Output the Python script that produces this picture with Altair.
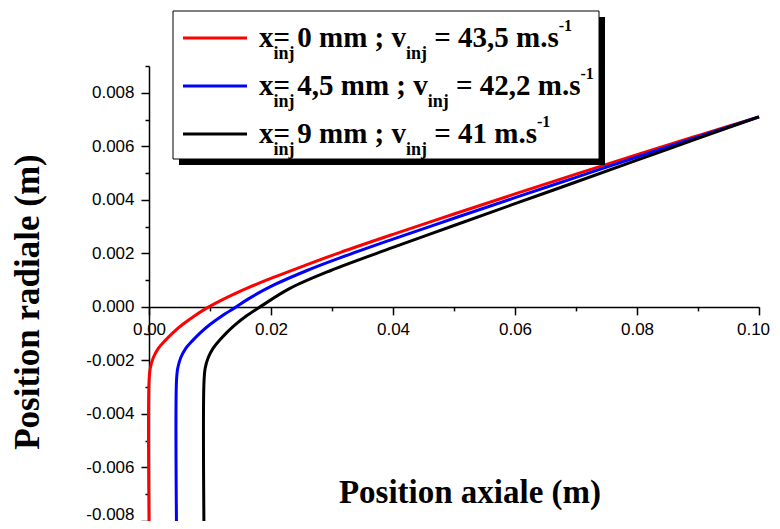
import altair as alt
import pandas as pd

# ---------------- data ----------------
series_names = ["x_inj = 0 mm", "x_inj = 4,5 mm", "x_inj = 9 mm"]
series_colors = ["#ff0000", "#0000ff", "#000000"]

red_x = [0.0, 0.0, 0.0002, 0.0007, 0.0015, 0.0026, 0.0039, 0.0055, 0.0075, 0.0098,
         0.0149, 0.0204, 0.0258, 0.0313, 0.04, 0.05, 0.06, 0.07, 0.08, 0.09, 0.1]
red_y = [-0.008, -0.0028, -0.0023, -0.0019, -0.00156, -0.00127, -0.00097, -0.00066, -0.00033, 0.0,
         0.00058, 0.0011, 0.00157, 0.00203, 0.00271, 0.00347, 0.00422, 0.00496, 0.00569, 0.0064, 0.0071]

blue_x = [0.0045, 0.0045, 0.0047, 0.0052, 0.006, 0.0071, 0.0084, 0.01, 0.012, 0.0143,
          0.0163, 0.0204, 0.0258, 0.0313, 0.04, 0.05, 0.06, 0.07, 0.08, 0.09, 0.1]
blue_y = [-0.008, -0.0028, -0.0023, -0.0019, -0.00156, -0.00127, -0.00097, -0.00066, -0.00033, 0.0,
          0.0003, 0.00081, 0.00135, 0.00183, 0.00253, 0.00331, 0.00408, 0.00484, 0.0056, 0.00635, 0.0071]

black_x = [0.009, 0.009, 0.0092, 0.0097, 0.0105, 0.0116, 0.0127, 0.0141, 0.016, 0.0182,
           0.0231, 0.0297, 0.04, 0.05, 0.06, 0.07, 0.08, 0.09, 0.1]
black_y = [-0.008, -0.0029, -0.0023, -0.0019, -0.00155, -0.00124, -0.00097, -0.00067, -0.00033, 0.0,
           0.00069, 0.00135, 0.00222, 0.00304, 0.003855, 0.004665, 0.00548, 0.0063, 0.0071]

x_tick_values = [round(0.01 * i, 2) for i in range(11)]
y_tick_values = [round(-0.008 + 0.001 * i, 3) for i in range(18)]

x_title = "Position axiale (m)"
y_title = "Position radiale (m)"

legend_x_parts = ["= 0 mm ; v", "= 4,5 mm ; v", "= 9 mm ; v"]
legend_v_parts = ["= 43,5 m.s", "= 42,2 m.s", "= 41 m.s"]
legend_sub = "inj"
legend_sup = "-1"

# ---------------- layout ----------------
W, H = 610, 455
PAD_L, PAD_T = 141, 58
X_DOMAIN = [0.0, 0.1]
Y_DOMAIN = [-0.008, 0.009]
ORG_X, ORG_Y = 8 + PAD_L, 8 + PAD_T   # page position of plot origin

x_axis_offset = -H * (0 - Y_DOMAIN[0]) / (Y_DOMAIN[1] - Y_DOMAIN[0])

rows = []
for name, xs, ys in zip(series_names, [red_x, blue_x, black_x], [red_y, blue_y, black_y]):
    for i, (a, b) in enumerate(zip(xs, ys)):
        rows.append({"series": name, "idx": i, "x": a, "y": b})
df = pd.DataFrame(rows)

TICK_FONT = "Liberation Sans"
SERIF = "Liberation Serif"

x_axis = alt.Axis(
    values=x_tick_values,
    labelExpr="round(datum.value*100) % 2 == 0 ? format(datum.value, '.2f') : ''",
    tickSize={"condition": {"test": "round(datum.value*100) % 2 == 0", "value": 8}, "value": 4},
    labelOffset={"condition": {"test": "datum.value > 0.099", "value": -6}, "value": 0},
    offset=x_axis_offset,
    grid=False, title=None,
    domainColor="black", domainWidth=1.5,
    tickColor="black", tickWidth=1.5,
    labelColor="black", labelFont=TICK_FONT, labelFontSize=17,
    labelPadding=7, labelFlush=False, labelOverlap=False,
)
y_axis = alt.Axis(
    values=y_tick_values,
    labelExpr="abs(round(datum.value*1000)) % 2 == 0 ? replace(format(datum.value, '.3f'), '\u2212', '-') : ''",
    tickSize={"condition": {"test": "abs(round(datum.value*1000)) % 2 == 0", "value": 8}, "value": 4},
    labelOffset={"condition": {"test": "datum.value < -0.0079", "value": -7}, "value": 0},
    grid=False, title=None,
    domainColor="black", domainWidth=1.5,
    tickColor="black", tickWidth=1.5,
    labelColor="black", labelFont=TICK_FONT, labelFontSize=17,
    labelPadding=7, labelFlush=False, labelOverlap=False,
)

lines = alt.Chart(df).mark_line(strokeWidth=3, interpolate="catmull-rom").encode(
    x=alt.X("x:Q", scale=alt.Scale(domain=X_DOMAIN, nice=False, zero=False), axis=x_axis),
    y=alt.Y("y:Q", scale=alt.Scale(domain=Y_DOMAIN, nice=False, zero=False), axis=y_axis),
    color=alt.Color("series:N", scale=alt.Scale(domain=series_names, range=series_colors), legend=None),
    order=alt.Order("idx:Q"),
    detail="series:N",
)

dummy = pd.DataFrame({"d": [0]})
layers = [lines]


def rel_x(px):
    return px - ORG_X


def rel_y(py):
    return py - ORG_Y


def text_layer(txt, px, py, size, align="left", baseline="alphabetic", angle=0, bold=True):
    kw = dict(font=SERIF, fontSize=size, align=align, baseline=baseline, color="black")
    if bold:
        kw["fontWeight"] = "bold"
    if angle:
        kw["angle"] = angle
    return alt.Chart(dummy).mark_text(**kw).encode(
        x=alt.value(rel_x(px)), y=alt.value(rel_y(py)), text=alt.value(txt)
    )


# legend box with shadow
BOX = (173, 11, 599, 159)
SH = 6
layers.append(alt.Chart(dummy).mark_rect(color="black").encode(
    x=alt.value(rel_x(BOX[0] + SH)), x2=alt.value(rel_x(BOX[2] + SH)),
    y=alt.value(rel_y(BOX[1] + SH)), y2=alt.value(rel_y(BOX[3] + SH))))
layers.append(alt.Chart(dummy).mark_rect(fill="white", stroke="black", strokeWidth=1).encode(
    x=alt.value(rel_x(BOX[0])), x2=alt.value(rel_x(BOX[2])),
    y=alt.value(rel_y(BOX[1])), y2=alt.value(rel_y(BOX[3]))))

# Times-Bold-like widths (em)
W_EM = {' ': 0.25, '=': 0.57, ',': 0.25, '.': 0.25, ';': 0.333, 'm': 0.833, 's': 0.389,
        'v': 0.5, 'x': 0.5, 'i': 0.278, 'n': 0.556, 'j': 0.333, '-': 0.333}
for d in "0123456789":
    W_EM[d] = 0.5


def tw(s, size):
    return sum(W_EM.get(c, 0.5) for c in s) * size


F, FS, FP = 29, 18, 16
baselines = [47, 95, 143]
for i in range(3):
    bl = baselines[i]
    ly = bl - 9
    layers.append(alt.Chart(dummy).mark_rule(color=series_colors[i], strokeWidth=3).encode(
        x=alt.value(rel_x(183)), x2=alt.value(rel_x(247)), y=alt.value(rel_y(ly))))
    x0 = 259
    layers.append(text_layer("x", x0, bl, F))
    x1 = x0 + tw("x", F)
    layers.append(text_layer(legend_sub, x1, bl + 12, FS))
    layers.append(text_layer(legend_x_parts[i], x1, bl, F))
    x2 = x1 + tw(legend_x_parts[i], F)
    layers.append(text_layer(legend_sub, x2, bl + 12, FS))
    x3 = x2 + tw(legend_sub, FS) + tw(" ", F)
    layers.append(text_layer(legend_v_parts[i], x3, bl, F))
    x4 = x3 + tw(legend_v_parts[i], F)
    layers.append(text_layer(legend_sup, x4, bl - 16, FP))

# axis titles
layers.append(text_layer(x_title, 470, 503, 33, align="center"))
layers.append(text_layer(y_title, 28, 302, 35, align="center", baseline="middle", angle=270))

chart = alt.layer(*layers).properties(
    width=W, height=H,
    padding={"left": PAD_L, "top": PAD_T, "right": 13, "bottom": 0},
    autosize=alt.AutoSizeParams(type="none"),
).configure_view(stroke=None)

chart.save("out.html", embed_options={"renderer": "svg", "actions": False})
